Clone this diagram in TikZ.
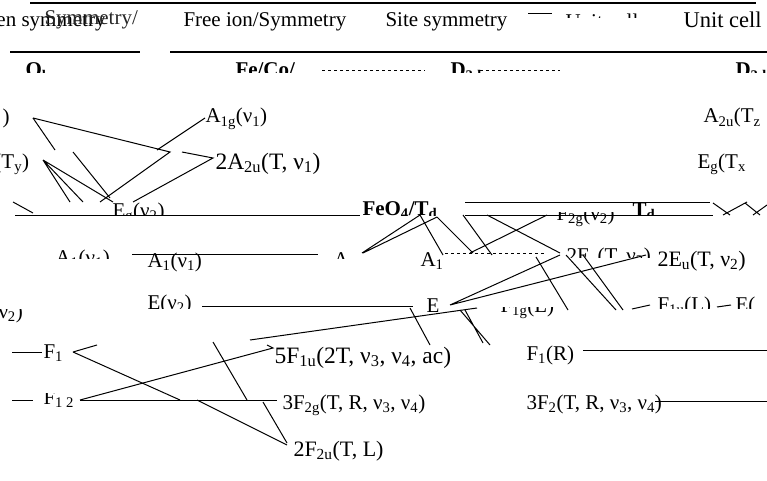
\documentclass[tikz,border=0pt]{standalone}
\usepackage{fontspec}
\setmainfont{Liberation Serif}
\usetikzlibrary{positioning}
\newcommand\sub[1]{\textsubscript{#1}}

\begin{document}
\begin{tikzpicture}[x=1pt,y=-1pt,line width=1pt,
 every node/.style={font=\fontsize{21}{25}\selectfont,inner sep=0pt,anchor=base west},
 hd/.style={font=\fontsize{21}{25}\selectfont\bfseries},
 big/.style={font=\fontsize{23.5}{28}\selectfont},
 rule/.style={line width=1.6pt}, thin rule/.style={line width=0.6pt}]
\useasboundingbox (0,0) rectangle (767,481);
% header rows
\draw[rule] (30,3)--(756,3);
\node (hgen) at (-4,27) {en symmetry};
\node[text=black!85] (hsym) at (44,25) {Symmetry/};
\node (hfree) at (183,27) {Free ion/Symmetry};
\node (hsite) at (385,27) {Site symmetry};
\draw[thin rule] (528,13)--(552,13);
\begin{scope}
\clip (560,0) rectangle (682,18);
\node (hcellx) at (565,29) {Unit cell symmetry};
\end{scope}
\node[font=\fontsize{22.5}{27}\selectfont] (hcell) at (683,28) {Unit cell symmetry};
\draw[rule] (10,52)--(140,52);
\draw[rule] (170,52)--(767,52);
\begin{scope}
\clip (0,55) rectangle (767,73);
\node[hd] (oh) at (25,77) {O\sub{h}};
\node[hd] (feco) at (235,77) {Fe/Co/};
\node[hd] (dd) at (450,77) {D\sub{3d}};
\node[hd] (ddr) at (735,77) {D\sub{3d}};
\end{scope}
\draw[thin rule,dashed] (322,70)--(425,70);
\draw[thin rule,dashed] (480,70)--(560,70);
% upper rows
\node (ra) at (2,124) {)};
\node (aig) at (205,123) {A\sub{1g}(ν\sub{1})};
\node (a2ur) at (703,123) {A\sub{2u}(T\sub{z}};
\node (ty) at (-6,168) {(T\sub{y})};
\node[big] (a2u) at (215,169) {2A\sub{2u}(T, ν\sub{1})};
\node (egr) at (697,168) {E\sub{g}(T\sub{x}};
\begin{scope}
\clip (0,190) rectangle (767,215);
\node (egn) at (112,217) {E\sub{g}(ν\sub{2})};
\node[hd] (feo) at (362,215) {FeO\sub{4}/T\sub{d}};
\node[hd] (td) at (632,216) {T\sub{d}};
\end{scope}
\begin{scope}
\clip (470,212) rectangle (630,230);
\node (f2g) at (556,220) {F\sub{2g}(ν\sub{2})};
\end{scope}
\draw (15,215)--(360,215);
\draw (465,202)--(710,202);
\draw (465,215)--(713,215);
\draw (713,203)--(730,215) (723,215)--(747,202) (745,203)--(760,215) (753,215)--(767,205);
% A1 row
\begin{scope}
\clip (0,240) rectangle (767,258);
\node (a1x) at (55,264) {A\sub{1}(ν\sub{1})};
\node (ax) at (333,266) {A};
\end{scope}
\begin{scope}
\clip (560,240) rectangle (660,257);
\node (euxx) at (566,262) {2E\sub{u}(T, ν\sub{2})};
\end{scope}
\node (a1) at (147,267) {A\sub{1}(ν\sub{1})};
\draw (132,254)--(318,254);
\node (a1t) at (420,266) {A\sub{1}};
\draw[dashed] (445,253)--(545,253);
\node[font=\fontsize{22}{26}\selectfont] (eu) at (657,266) {2E\sub{u}(T, ν\sub{2})};
% E row
\begin{scope}
\clip (0,309) rectangle (60,330);
\node (nu2) at (-2,318) {ν\sub{2})};
\end{scope}
\begin{scope}
\clip (100,280) rectangle (767,308);
\node (en) at (147,309) {E(ν\sub{2})};
\node (f1u) at (657,311) {F\sub{1u}(L)};
\node (er) at (735,311) {E(};
\end{scope}
\begin{scope}
\clip (480,307) rectangle (600,330);
\node (f1g) at (500,312) {F\sub{1g}(L)};
\end{scope}
\draw (202,306)--(413,306);
\node (e) at (426,312) {E};
\draw (632,309)--(650,305);
\draw (717,307)--(731,305);
% F rows
\draw (12,352)--(42,352);
\node (f1) at (43,358) {F\sub{1}};
\node[big] (f1ux) at (274,363) {5F\sub{1u}(2T, ν\sub{3}, ν\sub{4}, ac)};
\node (f1r) at (526,360) {F\sub{1}(R)};
\draw (583,350)--(767,350);
\draw (12,400)--(33,400);
\begin{scope}
\clip (40,393) rectangle (90,420);
\node (f12) at (43,404) {F\sub{1 2}};
\end{scope}
\draw (80,400)--(277,400);
\node (f2g3) at (282,409) {3F\sub{2g}(T, R, ν\sub{3}, ν\sub{4})};
\node (f23) at (526,409) {3F\sub{2}(T, R, ν\sub{3}, ν\sub{4})};
\draw (655,401)--(767,401);
\node[font=\fontsize{22}{26}\selectfont] (f2u) at (293,456) {2F\sub{2u}(T, L)};
% correlation lines, upper part
\coordinate (ja) at (33,118);
\coordinate (jb) at (170,152);
\coordinate (jt) at (43,160);
\coordinate (jc) at (213,158);
\draw (ja)--(jb)--(100,202);
\draw (ja)--(55,150);
\draw (205,118)--(157,150);
\draw (182,152)--(jc)--(133,202);
\draw (jt)--(70,202) (jt)--(83,202) (jt)--(113,202);
\draw (73,152)--(110,198);
\draw (13,202)--(33,213);
% correlation lines, middle part
\coordinate (ka) at (420,215);
\coordinate (kb) at (437,217);
\coordinate (je) at (450,305);
\draw (ka)--(362,253) (kb)--(363,253);
\draw (ka)--(443,255) (kb)--(473,253);
\draw (463,215)--(492,255);
\draw (547,215)--(470,253);
\draw (487,215)--(560,253);
\draw (je)--(560,255) (je)--(646,255);
\draw (250,340)--(477,308);
\draw (410,308)--(430,345);
\draw (460,310)--(490,345) (465,310)--(483,343);
\draw (536,257)--(568,310);
\draw (566,255)--(616,310) (583,255)--(623,310);
% correlation lines, lower part
\coordinate (jf) at (73,352);
\coordinate (jg) at (80,400);
\draw (jf)--(97,345) (jf)--(180,400);
\draw (jg)--(273,348)--(267,345);
\draw (197,400)--(287,445) (263,402)--(287,443);
\draw (213,342)--(247,400);
\end{tikzpicture}
\end{document}
